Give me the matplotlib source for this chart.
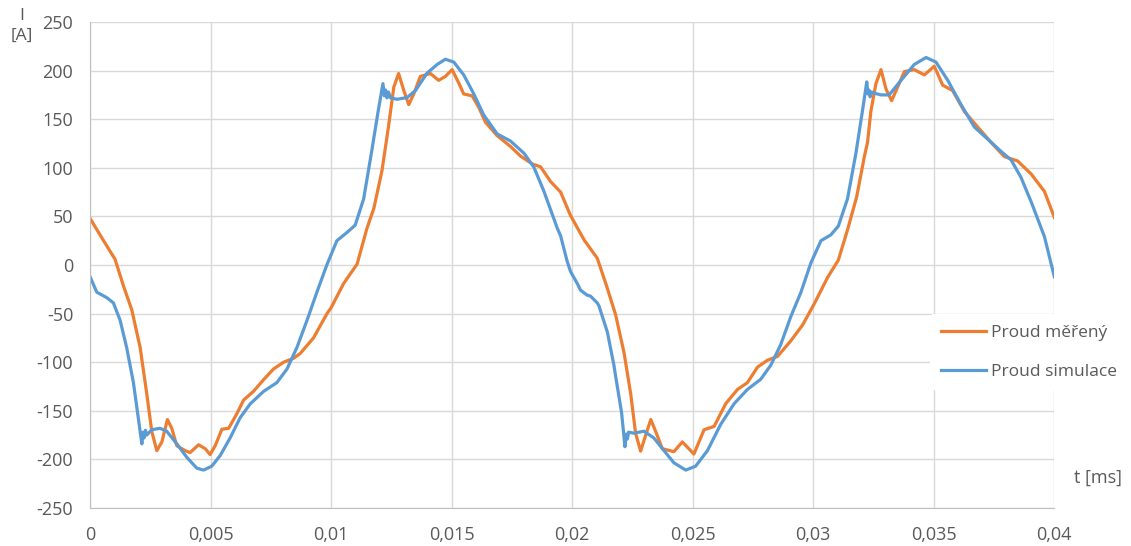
import matplotlib
matplotlib.use("Agg")
import matplotlib.pyplot as plt
import numpy as np

plt.rcParams['font.family'] = ['Open Sans', 'DejaVu Sans']
plt.rcParams['axes.unicode_minus'] = False

# time in ms (converted to s below), current in A
t_meas = [0, 0.55, 1.04, 1.38, 1.73, 2.08, 2.35, 2.56, 2.77, 2.98, 3.21, 3.39, 3.6, 3.95,
          4.15, 4.5, 4.78, 4.98, 5.19, 5.47, 5.75, 6.09, 6.37, 6.78, 7.2, 7.61, 8.03, 8.44,
          8.72, 9.27, 9.83, 10.0, 10.52, 11.08, 11.49, 11.77, 12.11, 12.39, 12.6, 12.8, 13.01,
          13.22, 13.43, 13.7, 14.12, 14.46, 14.74, 15.02, 15.3, 15.5, 15.85, 16.13, 16.4,
          16.89, 17.44, 17.86, 18.34, 18.69, 19.1, 19.52, 19.93, 20.5, 21.04, 21.42, 21.8,
          22.15, 22.43, 22.63, 22.84, 23.05, 23.26, 23.46, 23.74, 24.22, 24.57, 25.05, 25.47,
          25.89, 26.37, 26.86, 27.27, 27.69, 28.1, 28.52, 29.07, 29.55, 30.04, 30.59, 31.04,
          31.42, 31.8, 32.12, 32.25, 32.39, 32.6, 32.81, 33.02, 33.25, 33.5, 33.78, 34.19,
          34.61, 35.02, 35.37, 35.78, 36.27, 36.82, 37.38, 37.93, 38.48, 39.04, 39.59, 40.0]
i_meas = [48, 25.5, 5.8, -21, -46, -85, -132, -171, -191, -182, -159, -168, -186, -191,
          -193, -185, -189, -195, -186, -169, -168, -153, -139, -130, -118, -107, -100, -96,
          -91, -75, -50, -44, -19, 1, 38, 58, 97, 144, 183, 197, 180,
          165, 176, 194, 197, 190, 194, 201, 187, 176, 174, 162, 147,
          133, 122, 112, 104, 101, 86, 75, 51, 25.6, 7, -21, -51,
          -90, -133, -173, -191.5, -175, -159, -171, -189, -192, -182, -194.5, -169.5,
          -166, -142.6, -128, -121, -105, -98, -94, -78, -62, -40, -13, 5,
          36, 70, 111.5, 126, 158, 186.6, 201, 181, 169, 183, 199, 201,
          195.6, 204.5, 185, 179.5, 158, 142, 126, 111.5, 107, 93.6, 75.7, 49]

t_sim = [0, 0.28, 0.69, 0.97, 1.25, 1.52, 1.8, 2.0, 2.15, 2.2, 2.24, 2.3, 2.35, 2.56, 2.9,
         3.18, 3.6, 4.02, 4.43, 4.71, 5.05, 5.4, 5.81, 6.23, 6.64, 7.2, 7.75, 8.17, 8.58,
         9.0, 9.41, 9.83, 10.24, 10.66, 11.0, 11.35, 11.67, 11.95, 12.15, 12.21, 12.26,
         12.32, 12.38, 12.46, 12.74, 13.15, 13.5, 13.98, 14.4, 14.74, 15.09, 15.5, 15.92,
         16.33, 16.89, 17.44, 18.0, 18.41, 18.83, 19.38, 19.52, 19.79, 19.93, 20.21, 20.35,
         20.62, 20.76, 21.04, 21.11, 21.46, 21.73, 21.8, 22.05, 22.19, 22.24, 22.29, 22.34,
         22.56, 22.98, 23.39, 23.81, 24.22, 24.71, 25.12, 25.61, 26.16, 26.72, 27.27, 27.82,
         28.24, 28.65, 29.07, 29.49, 29.9, 30.32, 30.73, 31.04, 31.42, 31.77, 32.05, 32.22,
         32.27, 32.31, 32.36, 32.42, 32.5, 32.81, 33.15, 33.64, 34.19, 34.68, 35.09, 35.58,
         36.13, 36.68, 37.24, 37.79, 38.21, 38.62, 39.04, 39.59, 40.0]
i_sim = [-12, -28, -33.5, -39, -57, -85, -121, -157, -184, -172, -178, -170, -175, -169.5, -168,
         -171, -184, -198, -209, -211, -207, -196, -178, -157, -143, -130, -121, -107, -85,
         -57, -28, 0.5, 25, 33.5, 41, 68, 115, 158, 186.6, 174, 180,
         172, 178, 172, 170.5, 172.3, 179.5, 197.4, 206.3, 211.7, 208.8, 195.6, 176,
         154.4, 134.8, 127.6, 115, 100.7, 75.7, 38, 30, 4, -6.6, -19, -26,
         -31, -32, -39, -42, -69, -103, -114, -152, -187, -174, -179, -172,
         -173, -171, -178, -191, -203.5, -211, -207, -191, -164, -142.6, -128, -117.6,
         -103, -82, -53, -28, 2, 25, 31, 40, 68, 115, 160, 188.4,
         176, 180, 173, 178, 177, 175, 175, 190, 206.3, 213.5, 208.8, 190,
         165, 142, 129.4, 116.9, 108, 90, 65, 29.2, -12]

x_ticks = [0, 0.005, 0.01, 0.015, 0.02, 0.025, 0.03, 0.035, 0.04]
x_tick_labels = ['0', '0,005', '0,01', '0,015', '0,02', '0,025', '0,03', '0,035', '0,04']
y_ticks = list(range(-250, 251, 50))

fig = plt.figure(figsize=(11.31, 5.46), dpi=100)
ax = fig.add_axes([0.0796, 0.0696, 0.8526, 0.8901])

ax.plot(np.array(t_meas) / 1000, i_meas, color='#ED7D31', lw=2.3, label='Proud měřený')
ax.plot(np.array(t_sim) / 1000, i_sim, color='#5B9BD5', lw=2.3, label='Proud simulace')

ax.set_xlim(0, 0.04)
ax.set_ylim(-250, 250)
ax.set_xticks(x_ticks)
ax.set_xticklabels(x_tick_labels)
ax.set_yticks(y_ticks)
ax.grid(True, color='#D9D9D9', lw=1)
ax.set_axisbelow(True)
ax.tick_params(length=0, labelsize=13, colors='#595959')
ax.tick_params(axis='x', pad=13)
ax.tick_params(axis='y', pad=12)
for s in ['top', 'right']:
    ax.spines[s].set_visible(False)
for s in ['left', 'bottom']:
    ax.spines[s].set_color('#BFBFBF')

fig.text(0.0195, 0.985, 'I\n[A]', ha='center', va='top', fontsize=12.5, color='#595959',
         linespacing=1.3)
fig.text(0.992, 0.125, 't [ms]', ha='right', va='center', fontsize=13, color='#595959')

leg = fig.legend(loc='center left', bbox_to_anchor=(0.815, 0.355), frameon=True,
                 fontsize=12.5, handlelength=2.6, handletextpad=0.3, labelspacing=1.3,
                 borderpad=0.6, labelcolor='#595959')
leg.get_frame().set_facecolor('white')
leg.get_frame().set_edgecolor('none')
leg.get_frame().set_alpha(1)

fig.savefig('out.png', dpi=100)
